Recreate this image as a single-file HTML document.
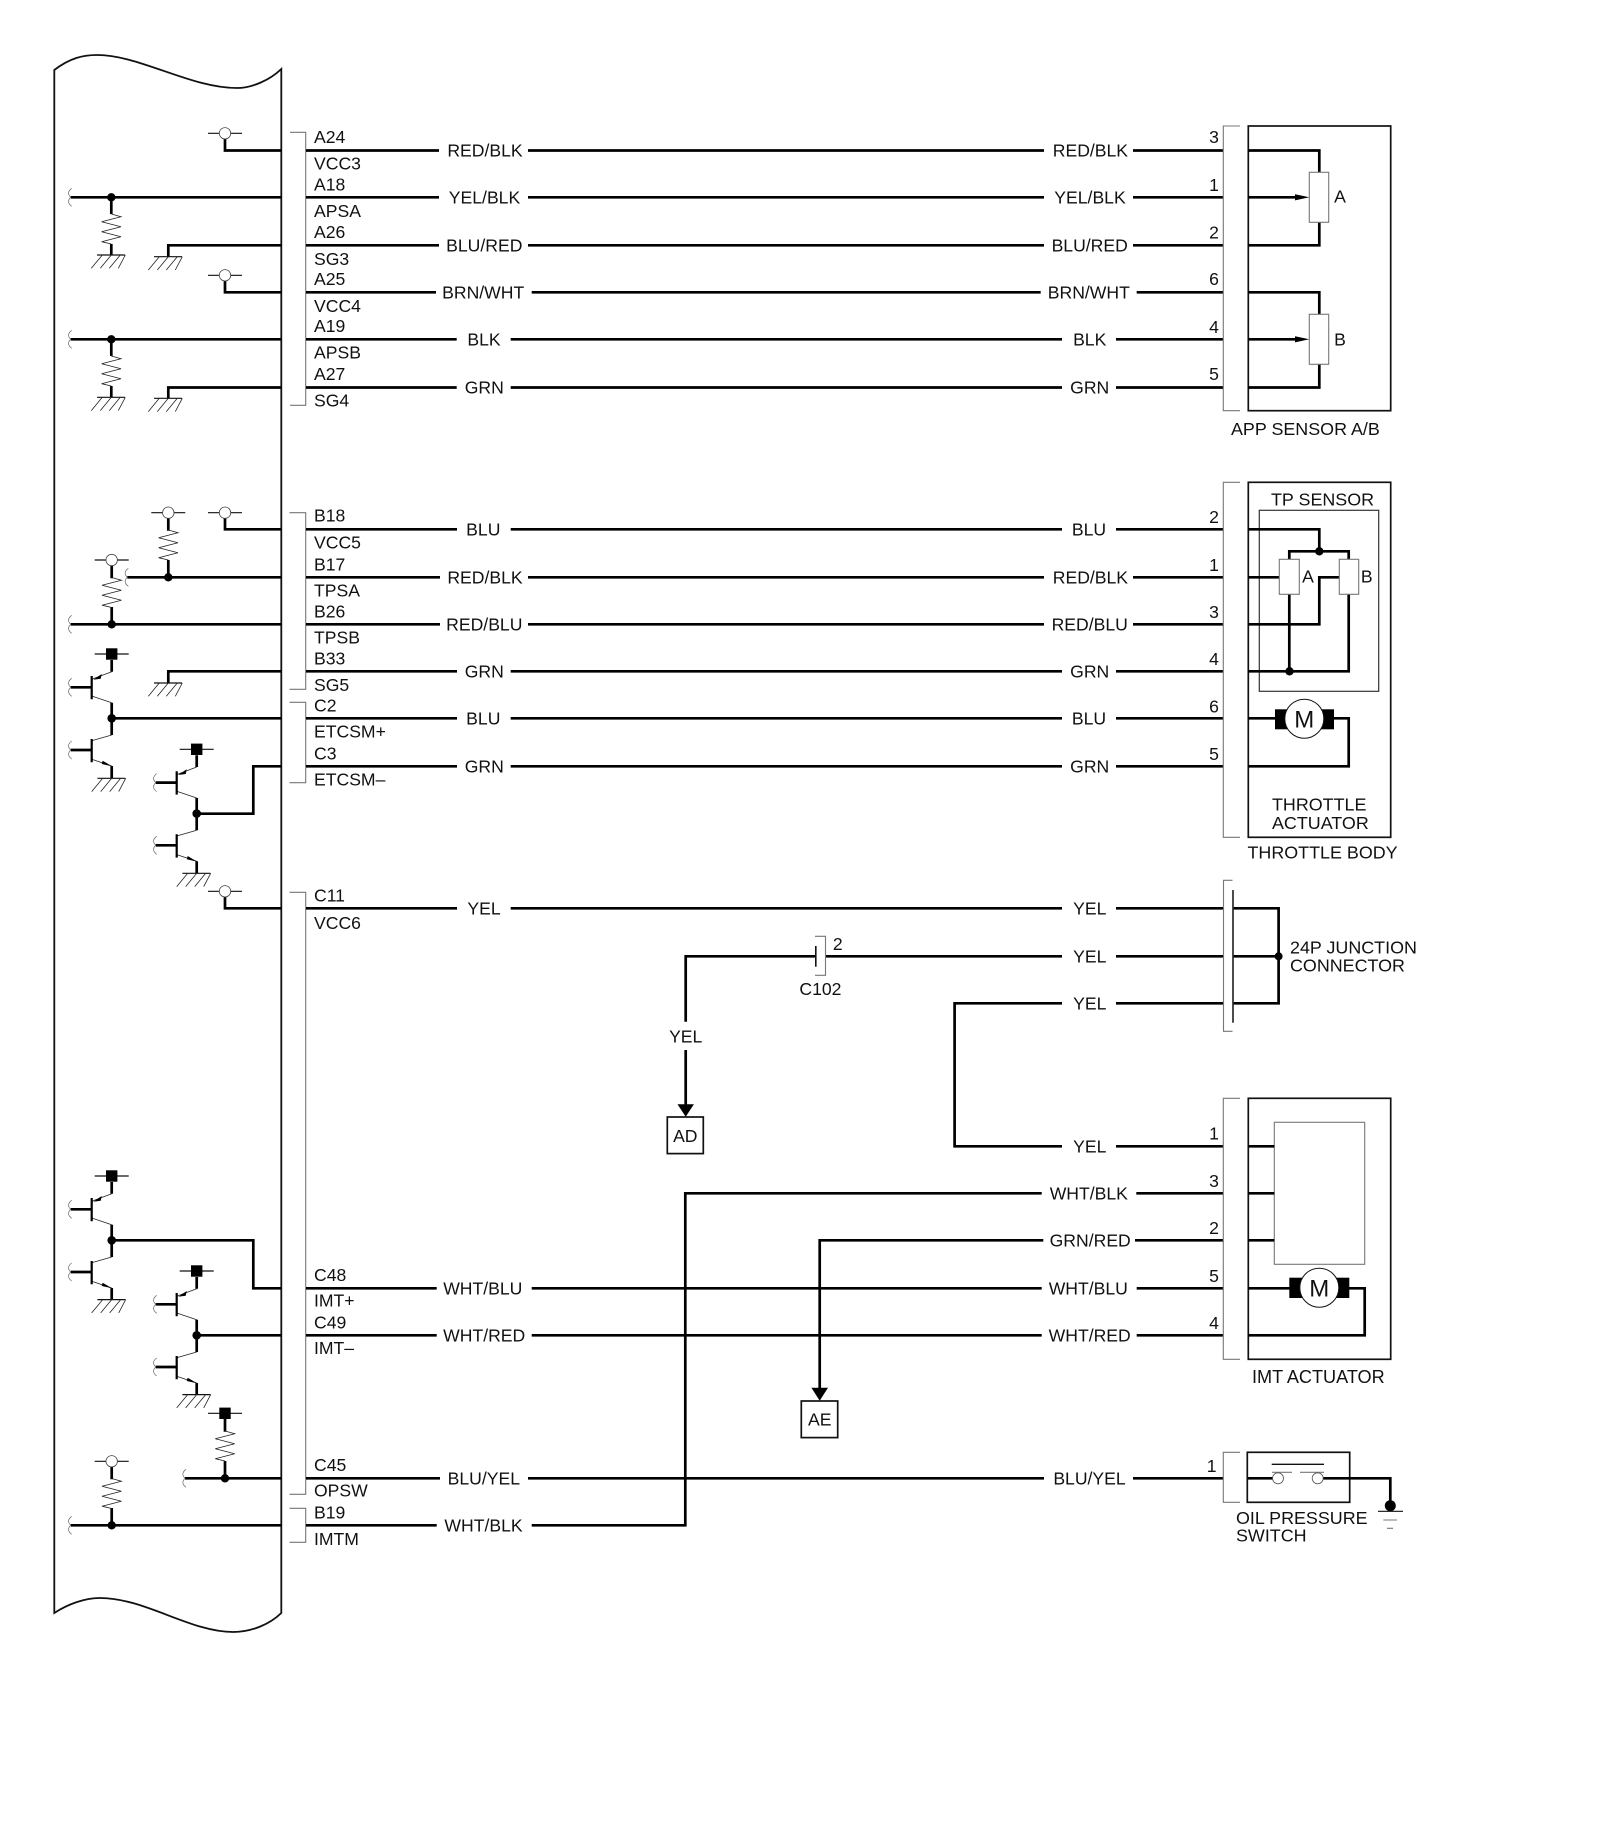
<!DOCTYPE html>
<html><head><meta charset="utf-8"><title>Wiring diagram</title>
<style>
html,body{margin:0;padding:0;background:#fff}
svg{display:block}
text{font-family:"Liberation Sans",Arial,sans-serif;font-size:17.6px;fill:#111}
.m{text-anchor:middle}
.n{font-size:17.9px}
.w{fill:none;stroke:#000;stroke-width:2.7}
.g{fill:none;stroke:#777;stroke-width:1.1}
.k{fill:none;stroke:#111;stroke-width:1.8}
.t{fill:none;stroke:#222;stroke-width:.8}
.tl{fill:none;stroke:#666;stroke-width:.7}
.b{fill:none;stroke:#111;stroke-width:1.2}
.c{fill:none;stroke:#111;stroke-width:1.7}
</style></head><body>
<svg width="1600" height="1839" viewBox="0 0 1600 1839" xmlns="http://www.w3.org/2000/svg">
<defs>
<g id="res"><path class="t" d="M0,0 L9.7,2.7 L-9.7,7.7 L9.7,12.7 L-9.7,17.7 L9.7,22.7 L-9.7,27.7 L0,30"/></g>
<g id="gnd"><path class="b" d="M-14.3,0H13.7"/><path class="t" d="M-9,0L-20,13.3M0,0L-11,13.3M9,0L-2,13.3M14,0L7,13.3"/></g>
<g id="tl"><path class="tl" d="M1,-9C-3,-6 -3,-3 0,0C-3,3 -3,6 1,9"/></g>
<g id="po"><path class="b" d="M-17,0H17"/><circle r="5.7" fill="#fff" stroke="#444" stroke-width=".8"/></g>
<g id="ps"><path class="b" d="M-17,0H17"/><rect x="-5.7" y="-5.7" width="11.4" height="11.4" fill="#000"/></g>
<g id="tp">
<use href="#ps" x="111.7" y="654"/>
<path class="w" d="M111.7,660V671.7M111.7,702.7V735M111.7,766V778"/>
<path class="t" d="M111.7,671.7L91.7,679.3M91.7,696L111.7,702.7M111.7,735L91.7,740.7M91.7,759.3L111.7,766"/>
<path d="M93.3,679.7L101.7,674L100.7,678.7Z" fill="#000"/>
<path d="M112,766.3L102.7,760.7L101.7,764Z" fill="#000"/>
<path class="w" d="M70.7,687.3H91.7M70.7,750H91.7"/>
<path d="M91.7,676V699.3M91.7,739V762.3" fill="none" stroke="#000" stroke-width="2.2"/>
<use href="#tl" x="70.7" y="687.3"/><use href="#tl" x="70.7" y="750"/>
<circle cx="111.7" cy="718.3" r="4.3" fill="#000"/>
</g>
</defs>

<!-- unit outline -->
<path class="k" d="M54.3,1613V70C70,58 83,55 97,55C140,55 190,88 237,88C252,88 270,80 281.3,69V1613C270,1624 252,1632 233,1632C190,1632 145,1598 100,1598C85,1598 68,1604 54.3,1613Z"/>

<!-- connector brackets left -->
<path class="g" d="M290,132.3H305.7V405.3H290M289.5,512.7H305.7V689.3H289.5M289.5,702.3H305.7V782.7H289.5M289.5,892.3H305.7V1494.3H289.5M289.5,1508.3H305.7V1542.3H289.5"/>

<!-- main wires -->
<path class="w" d="M306,150.5H439M528,150.5H1044M1133,150.5H1223.3
M306,197.3H439M528,197.3H1044M1133,197.3H1223.3
M306,245.3H439M528,245.3H1044M1133,245.3H1223.3
M306,292.3H436M531.7,292.3H1040.7M1136.7,292.3H1223.3
M306,339.3H456.7M510.7,339.3H1062M1116,339.3H1223.3
M306,387.5H456.7M510.7,387.5H1062M1116,387.5H1223.3
M306,529.3H457M510.7,529.3H1062M1116,529.3H1223.3
M306,577.3H440M528,577.3H1044M1133,577.3H1223.3
M306,624.3H440M528,624.3H1044M1133,624.3H1223.3
M306,671.3H457M510.7,671.3H1062M1116,671.3H1223.3
M306,718.3H457M510.7,718.3H1062M1116,718.3H1223.3
M306,766.3H457M510.7,766.3H1062M1116,766.3H1223.3
M306,908.3H457M510.7,908.3H1062M1116,908.3H1223.3
M826,956.3H1062M1116,956.3H1223.3
M1062,1003.3H954.6V1146.3H1062M1116,1003.3H1223.3M1116,1146.3H1223.3
M1041.7,1193.3H685.3V1525.3H531.7M1136.3,1193.3H1223.3
M1043.3,1240.3H819.7V1388M1135,1240.3H1223.3
M306,1288.3H436.7M531.7,1288.3H1041.7M1136.7,1288.3H1223.3
M306,1335.3H436.7M531.7,1335.3H1041.7M1136.7,1335.3H1223.3
M306,1478.3H440M528,1478.3H1044M1133,1478.3H1223.3
M306,1525.3H436.7
M815.8,956.3H685.7V1021.7M685.7,1050V1105"/>

<!-- ECU internals -->
<path class="w" d="M225,139V150.5H281.3M70.7,197.3H281.3M111.3,197.3V214M111.3,244V255M281.3,245.3H168.3V256.7
M225,281V292.3H281.3M70.7,339.3H281.3M111.3,339.3V356M111.3,386V397.3M281.3,387.5H168.3V398.3
M225,518V529.3H281.3M168.3,518V530.7M168.3,560V577.3M127.3,577.3H281.3M111.7,565V578.3M111.7,607V624.3M70.7,624.3H281.3
M111.7,718.3H281.3M196.7,813.7H253.3V766.3H281.3
M225,897V908.3H281.3
M111.7,1240.3H253.3V1288.3H281.3M196.7,1335.3H281.3
M225,1419V1431.7M225,1461V1478.3M185,1478.3H281.3
M111.7,1467V1479.3M111.7,1508V1525.3M70.7,1525.3H281.3"/>
<use href="#po" x="225" y="133.3"/><use href="#po" x="225" y="275.3"/>
<use href="#po" x="225" y="512.7"/><use href="#po" x="168.3" y="512.7"/><use href="#po" x="111.7" y="560"/>
<use href="#po" x="225" y="891.3"/><use href="#po" x="111.7" y="1461.3"/>
<use href="#ps" x="225" y="1413.3"/>
<use href="#tl" x="70.7" y="197.3"/><use href="#tl" x="70.7" y="339.3"/><use href="#tl" x="127.3" y="577.3"/><use href="#tl" x="70.7" y="624.3"/><use href="#tl" x="185" y="1478.3"/><use href="#tl" x="70.7" y="1525.3"/>
<use href="#res" x="111.3" y="214"/><use href="#res" x="111.3" y="356"/><use href="#res" x="168.3" y="530"/><use href="#res" x="111.7" y="577.5"/><use href="#res" x="225" y="1431"/><use href="#res" x="111.7" y="1478.5"/>
<use href="#gnd" x="111.3" y="255"/><use href="#gnd" x="168.3" y="256.7"/><use href="#gnd" x="111.3" y="397.3"/><use href="#gnd" x="168.3" y="398.3"/>
<path class="w" d="M281.3,671.3H168.3V683"/><use href="#gnd" x="168.3" y="683"/>
<g fill="#000"><circle cx="111.3" cy="197.3" r="4.2"/><circle cx="111.3" cy="339.3" r="4.2"/><circle cx="168.3" cy="577.3" r="4.2"/><circle cx="111.7" cy="624.3" r="4.2"/><circle cx="225" cy="1478.3" r="4.2"/><circle cx="111.7" cy="1525.3" r="4.2"/></g>
<use href="#tp"/>
<use href="#tp" transform="translate(85,95.3)"/>
<use href="#tp" transform="translate(0,522)"/>
<use href="#tp" transform="translate(85,617)"/>
<use href="#gnd" x="111.7" y="778.3"/><use href="#gnd" x="196.7" y="873.3"/><use href="#gnd" x="111.7" y="1299.6"/><use href="#gnd" x="196.7" y="1394.6"/>

<!-- pin labels -->
<text x="314" y="143">A24</text><text x="314" y="169.5">VCC3</text>
<text x="314" y="190.5">A18</text><text x="314" y="217">APSA</text>
<text x="314" y="238">A26</text><text x="314" y="265">SG3</text>
<text x="314" y="285">A25</text><text x="314" y="312">VCC4</text>
<text x="314" y="332">A19</text><text x="314" y="358.5">APSB</text>
<text x="314" y="380">A27</text><text x="314" y="406.5">SG4</text>
<text x="314" y="521.5">B18</text><text x="314" y="548.5">VCC5</text>
<text x="314" y="570.5">B17</text><text x="314" y="596.5">TPSA</text>
<text x="314" y="617.5">B26</text><text x="314" y="643.5">TPSB</text>
<text x="314" y="664.5">B33</text><text x="314" y="691">SG5</text>
<text x="314" y="711.5">C2</text><text x="314" y="737.5">ETCSM+</text>
<text x="314" y="759.5">C3</text><text x="314" y="785.5">ETCSM–</text>
<text x="314" y="901.5">C11</text><text x="314" y="929">VCC6</text>
<text x="314" y="1281">C48</text><text x="314" y="1306.7">IMT+</text>
<text x="314" y="1328.5">C49</text><text x="314" y="1354">IMT–</text>
<text x="314" y="1471">C45</text><text x="314" y="1496.7">OPSW</text>
<text x="314" y="1518.5">B19</text><text x="314" y="1545">IMTM</text>

<!-- wire labels left -->
<text class="m" x="485" y="156.7">RED/BLK</text>
<text class="m" x="484.5" y="203.5">YEL/BLK</text>
<text class="m" x="484.3" y="251.5">BLU/RED</text>
<text class="m" x="483.2" y="298.5">BRN/WHT</text>
<text class="m" x="484" y="345.5">BLK</text>
<text class="m" x="484.3" y="393.7">GRN</text>
<text class="m" x="483.3" y="535.5">BLU</text>
<text class="m" x="485" y="583.5">RED/BLK</text>
<text class="m" x="484.3" y="630.5">RED/BLU</text>
<text class="m" x="484.3" y="677.5">GRN</text>
<text class="m" x="483.3" y="724.5">BLU</text>
<text class="m" x="484.3" y="772.5">GRN</text>
<text class="m" x="484" y="914.5">YEL</text>
<text class="m" x="482.8" y="1294.5">WHT/BLU</text>
<text class="m" x="484.2" y="1341.5">WHT/RED</text>
<text class="m" x="483.8" y="1484.5">BLU/YEL</text>
<text class="m" x="483.5" y="1531.5">WHT/BLK</text>
<!-- wire labels right -->
<text class="m" x="1090.4" y="156.7">RED/BLK</text>
<text class="m" x="1090" y="203.5">YEL/BLK</text>
<text class="m" x="1089.7" y="251.5">BLU/RED</text>
<text class="m" x="1088.8" y="298.5">BRN/WHT</text>
<text class="m" x="1089.7" y="345.5">BLK</text>
<text class="m" x="1089.7" y="393.7">GRN</text>
<text class="m" x="1089" y="535.5">BLU</text>
<text class="m" x="1090.4" y="583.5">RED/BLK</text>
<text class="m" x="1089.7" y="630.5">RED/BLU</text>
<text class="m" x="1089.7" y="677.5">GRN</text>
<text class="m" x="1089" y="724.5">BLU</text>
<text class="m" x="1089.7" y="772.5">GRN</text>
<text class="m" x="1089.8" y="914.5">YEL</text>
<text class="m" x="1089.8" y="962.5">YEL</text>
<text class="m" x="1089.8" y="1009.5">YEL</text>
<text class="m" x="1089.8" y="1152.5">YEL</text>
<text class="m" x="1088.8" y="1199.5">WHT/BLK</text>
<text class="m" x="1090.2" y="1246.5">GRN/RED</text>
<text class="m" x="1088.3" y="1294.5">WHT/BLU</text>
<text class="m" x="1089.7" y="1341.5">WHT/RED</text>
<text class="m" x="1089.5" y="1484.5">BLU/YEL</text>
<!-- pin numbers -->
<text class="m" x="1214" y="143">3</text><text class="m" x="1214" y="191">1</text><text class="m" x="1214" y="238.5">2</text><text class="m" x="1214" y="285">6</text><text class="m" x="1214" y="333">4</text><text class="m" x="1214" y="380">5</text>
<text class="m" x="1214" y="523">2</text><text class="m" x="1214" y="571">1</text><text class="m" x="1214" y="618">3</text><text class="m" x="1214" y="665">4</text><text class="m" x="1214" y="712.5">6</text><text class="m" x="1214" y="760">5</text>
<text class="m" x="1214" y="1139.5">1</text><text class="m" x="1214" y="1187">3</text><text class="m" x="1214" y="1234">2</text><text class="m" x="1214" y="1282">5</text><text class="m" x="1214" y="1329">4</text>
<text class="m" x="1211.7" y="1472">1</text>

<!-- right brackets -->
<path class="g" d="M1240,126H1223.3V410.7H1240M1240,482.3H1223.3V837.3H1240M1232.5,880.3H1223.5V1031.3H1232.5M1240,1098.3H1223.3V1359.3H1240M1240,1452.3H1223.3V1502.3H1240"/>

<!-- APP sensor -->
<rect class="c" x="1248.3" y="126" width="142.4" height="284.7"/>
<path class="w" d="M1248,150.5H1319.3V172.3M1319.3,222.3V245.3H1248M1248,197.3H1296M1248,292.3H1319.3V314.3M1319.3,364.3V387.5H1248M1248,339.3H1296"/>
<path d="M1295,194.2L1309.3,197.3L1295,200.4ZM1295,336.2L1309.3,339.3L1295,342.4Z" fill="#000"/>
<rect class="g" x="1309.3" y="172.3" width="19.4" height="50"/>
<rect class="g" x="1309.3" y="314.3" width="19.4" height="50"/>
<text x="1340" y="202.7" text-anchor="middle">A</text>
<text x="1340" y="345.3" text-anchor="middle">B</text>
<text class="n" x="1231" y="435">APP SENSOR A/B</text>

<!-- Throttle body -->
<rect class="c" x="1248.3" y="482.3" width="142.4" height="355"/>
<text class="n" x="1271" y="505.5">TP SENSOR</text>
<rect x="1259.3" y="510.3" width="119.4" height="181" fill="none" stroke="#333" stroke-width="1.2"/>
<path class="w" d="M1248,529.3H1319.3V551.3M1289.3,559.3V551.3H1348.7V559.3M1248,577.3H1279.3M1248,624.3H1319.3V577.3H1339.3M1248,671.3H1348.7V594.3M1289.3,594.3V671.3M1248,718.3H1276M1333,718.3H1348.7V766.3H1248"/>
<circle cx="1319.3" cy="551.3" r="4.2" fill="#000"/><circle cx="1289.5" cy="671.3" r="4.2" fill="#000"/>
<rect x="1279.3" y="559.3" width="20" height="35" fill="#fff" stroke="#777" stroke-width="1.1"/>
<rect x="1339.3" y="559.3" width="19.4" height="35" fill="#fff" stroke="#777" stroke-width="1.1"/>
<text x="1308" y="582.7" text-anchor="middle">A</text><text x="1366.7" y="582.7" text-anchor="middle">B</text>
<rect x="1275" y="709.3" width="59" height="20" fill="#000"/>
<circle cx="1304.3" cy="718.7" r="19.5" fill="#fff" stroke="#111" stroke-width="1"/>
<text x="1304.3" y="727.5" text-anchor="middle" style="font-size:24px">M</text>
<text class="n" x="1272" y="810.7">THROTTLE</text><text class="n" x="1272" y="829">ACTUATOR</text>
<text class="n" x="1247.5" y="858.3">THROTTLE BODY</text>

<!-- Junction connector -->
<path d="M1233,890V1022.7" fill="none" stroke="#111" stroke-width="1.5"/>
<path class="w" d="M1233.7,908.3H1278.6V1003.3H1233.7M1233.7,956.3H1278.6"/>
<circle cx="1278.6" cy="956.3" r="4" fill="#000"/>
<text class="n" x="1290" y="953.3">24P JUNCTION</text><text class="n" x="1290" y="971.7">CONNECTOR</text>

<!-- C102 -->
<path class="g" d="M815,936.3H825.5V975.3H815"/>
<path d="M815.8,946V966.7" fill="none" stroke="#111" stroke-width="1.6"/>
<text x="837.8" y="950" text-anchor="middle">2</text>
<text x="820.4" y="995" text-anchor="middle">C102</text>
<text x="685.7" y="1042.7" text-anchor="middle">YEL</text>
<path d="M677.5,1104.3H693.9L685.7,1116.7Z" fill="#000"/>
<rect class="c" x="667.3" y="1117" width="36" height="36.6"/>
<text x="685.3" y="1142" text-anchor="middle">AD</text>
<path d="M811.4,1387.7H828L819.7,1400.7Z" fill="#000"/>
<rect class="c" x="801.3" y="1401" width="36.4" height="36.6"/>
<text x="819.7" y="1425.7" text-anchor="middle">AE</text>

<!-- IMT actuator -->
<rect class="c" x="1248.3" y="1098.3" width="142.4" height="261"/>
<rect class="g" x="1274.3" y="1122.3" width="90.4" height="142"/>
<path class="w" d="M1248,1146.3H1274.3M1248,1193.3H1274.3M1248,1240.3H1274.3M1248,1288.3H1290M1349,1288.3H1364.7V1335.3H1248"/>
<rect x="1289.3" y="1277.7" width="60" height="20.3" fill="#000"/>
<circle cx="1319.3" cy="1287.7" r="19.5" fill="#fff" stroke="#111" stroke-width="1"/>
<text x="1319.3" y="1296.5" text-anchor="middle" style="font-size:24px">M</text>
<text x="1252" y="1383" style="font-size:18.1px">IMT ACTUATOR</text>

<!-- Oil pressure switch -->
<rect class="c" x="1247.3" y="1452.3" width="102.4" height="50"/>
<path class="w" d="M1248,1478.3H1273M1323,1478.3H1390.3V1505"/>
<path d="M1271.7,1464.3H1324" fill="none" stroke="#111" stroke-width="1.3"/>
<path class="g" d="M1272,1472.3H1292M1300,1472.3H1324"/>
<circle cx="1278" cy="1478.3" r="5.5" fill="#fff" stroke="#555" stroke-width=".8"/>
<circle cx="1317.7" cy="1478.3" r="5.5" fill="#fff" stroke="#555" stroke-width=".8"/>
<circle cx="1390.3" cy="1505.7" r="5.5" fill="#000"/>
<path d="M1378,1511.3H1403" fill="none" stroke="#111" stroke-width="1.2"/>
<path class="g" d="M1383.3,1520H1397M1387,1528.3H1393"/>
<text class="n" x="1236" y="1524">OIL PRESSURE</text><text class="n" x="1236" y="1541.7">SWITCH</text>
</svg>
</body></html>
